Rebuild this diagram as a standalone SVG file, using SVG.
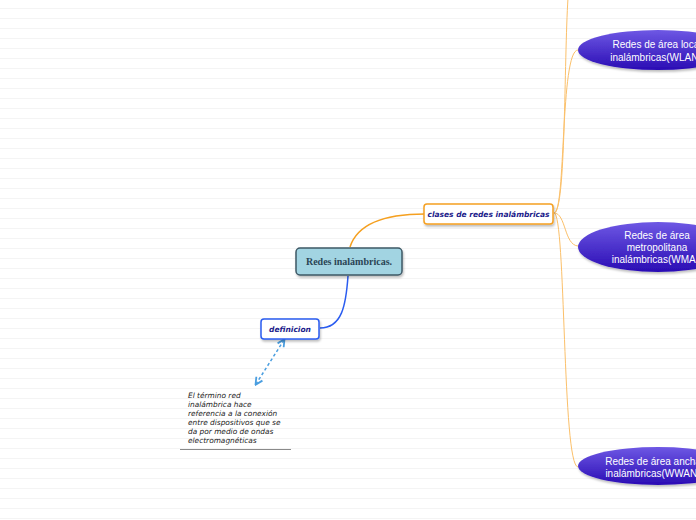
<svg xmlns="http://www.w3.org/2000/svg" width="696" height="520" viewBox="0 0 696 520">
<defs>
<pattern id="lines" x="0" y="8" width="696" height="10" patternUnits="userSpaceOnUse">
<rect x="0" y="0" width="696" height="1" fill="#f4f4f4"/>
</pattern>
<linearGradient id="ell" x1="0" y1="0" x2="0" y2="1">
<stop offset="0" stop-color="#6e58e4"/>
<stop offset="1" stop-color="#2a0cb4"/>
</linearGradient>
<marker id="ah" viewBox="0 0 10 10" refX="8" refY="5" markerWidth="6" markerHeight="6" orient="auto-start-reverse">
<path d="M1,1 L9,5 L1,9" fill="none" stroke="#4a9ee0" stroke-width="2"/>
</marker>
<filter id="sh" x="-10%" y="-20%" width="130%" height="160%">
<feDropShadow dx="1" dy="2" stdDeviation="1.2" flood-color="#000" flood-opacity="0.25"/>
</filter>
</defs>
<style>
.sub{font-family:"DejaVu Sans","Liberation Sans",sans-serif;font-weight:bold;font-style:italic;fill:#1a1a8a;}
.ell{fill:url(#ell);}
.et{font-family:"Liberation Sans",Arial,sans-serif;font-size:10px;fill:#ffffff;text-anchor:middle;}
.oc{fill:none;stroke:#fbc06a;stroke-width:1;}
</style>
<rect width="696" height="520" fill="#ffffff"/>
<rect width="696" height="520" fill="url(#lines)"/>

<g id="connectors">
<path d="M350,247 C358,222 390,214 425,214" fill="none" stroke="#f5a020" stroke-width="1.5"/>
<path d="M348,276 C346,305 342,328 320,328" fill="none" stroke="#2a5cf0" stroke-width="1.5"/>
<path class="oc" d="M554,213 C566,213 564,60 568,-2"/>
<path class="oc" d="M554,213 C566,213 560,50 578,50"/>
<path class="oc" d="M554,213 C566,213 564,245 578,246"/>
<path class="oc" d="M554,213 C566,213 562,466 578,467"/>
<line x1="284" y1="340" x2="256" y2="384" stroke="#4a9ee0" stroke-width="1.5" stroke-dasharray="3,2.5" marker-start="url(#ah)" marker-end="url(#ah)"/>
</g>

<g id="central">
<rect x="296" y="248" width="106" height="27" rx="4" fill="#a2d4e2" stroke="#3e5866" stroke-width="1.5" filter="url(#sh)"/>
<text x="349" y="265" text-anchor="middle" font-family="'Liberation Serif','DejaVu Serif',serif" font-weight="bold" font-size="10" fill="#2a4555">Redes inalámbricas.</text>
</g>

<g id="clases">
<rect x="424" y="204" width="129" height="20" rx="3" fill="#ffffff" stroke="#f5a020" stroke-width="1.5" filter="url(#sh)"/>
<text class="sub" x="488.5" y="217" text-anchor="middle" font-size="7.5">clases de redes inalámbricas</text>
</g>

<g id="definicion">
<rect x="261" y="319" width="58" height="20" rx="3" fill="#ffffff" stroke="#2a5cf0" stroke-width="1.5" filter="url(#sh)"/>
<text class="sub" x="290" y="332" text-anchor="middle" font-size="7.5">definicion</text>
</g>

<g id="nota">
<text font-family="'DejaVu Sans','Liberation Sans',sans-serif" font-style="italic" font-size="7.4" fill="#222222">
<tspan x="188" y="398">El término red</tspan>
<tspan x="188" y="407">inalámbrica hace</tspan>
<tspan x="188" y="416">referencia a la conexión</tspan>
<tspan x="188" y="425">entre dispositivos que se</tspan>
<tspan x="188" y="434">da por medio de ondas</tspan>
<tspan x="188" y="443">electromagnéticas</tspan>
</text>
<line x1="180" y1="449.5" x2="291" y2="449.5" stroke="#8a8a8a" stroke-width="1"/>
</g>

<g id="wlan">
<ellipse class="ell" cx="658" cy="50" rx="80" ry="20" filter="url(#sh)"/>
<text class="et"><tspan x="657" y="48">Redes de área local</tspan><tspan x="656" y="61">inalámbricas(WLAN)</tspan></text>
</g>

<g id="wman">
<ellipse class="ell" cx="658" cy="247" rx="80" ry="25" filter="url(#sh)"/>
<text class="et"><tspan x="657" y="239">Redes de área</tspan><tspan x="657" y="251">metropolitana</tspan><tspan x="659" y="263">inalámbricas(WMAN)</tspan></text>
</g>

<g id="wwan">
<ellipse class="ell" cx="658" cy="466" rx="80" ry="19" filter="url(#sh)"/>
<text class="et"><tspan x="653" y="465">Redes de área ancha</tspan><tspan x="653" y="477">inalámbricas(WWAN)</tspan></text>
</g>
</svg>
